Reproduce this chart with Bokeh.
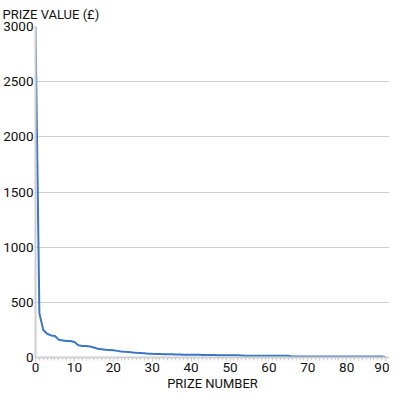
from bokeh.plotting import figure
from bokeh.models import Range1d, FixedTicker
from bokeh.embed import file_html
from bokeh.resources import INLINE

prize_number = list(range(0, 91))
prize_value = [
    3000, 400, 250, 215, 200, 195, 160, 155, 150, 150,
    140, 110, 105, 105, 100, 90, 80, 75, 70, 68,
    65, 60, 55, 52, 50, 45, 42, 40, 38, 35,
    33, 32, 31, 30, 30, 29, 28, 27, 26, 25,
    25, 24, 24, 23, 23, 22, 22, 21, 21, 20,
    20, 20, 20, 18, 15, 15, 15, 15, 15, 15,
    15, 15, 15, 15, 15, 15, 10, 10, 10, 10,
    10, 10, 10, 10, 10, 10, 10, 10, 10, 10,
    10, 10, 10, 10, 10, 10, 10, 10, 10, 8,
    5,
]
y_ticks = [0, 500, 1000, 1500, 2000, 2500, 3000]
x_ticks = [0, 10, 20, 30, 40, 50, 60, 70, 80, 90]

FONT = "Roboto"
TXT = "#111111"
GRID = "#cfcfcf"

p = figure(frame_width=354, frame_height=331, output_backend="svg", toolbar_location=None,
           x_range=Range1d(0, 91), y_range=Range1d(0, 3000),
           min_border_left=33, min_border_right=0, min_border_top=0, min_border_bottom=0)

p.title.text = "PRIZE VALUE (\u00a3)"
p.title.align = "left"
p.title.offset = -33
p.title.text_font = FONT
p.title.text_font_size = "13px"
p.title.text_font_style = "normal"
p.title.text_color = TXT
p.title.standoff = 9

p.line(prize_number, prize_value, line_color="#3a76c4", line_width=2)

p.outline_line_color = None
p.background_fill_color = "white"
p.border_fill_color = "white"

p.xgrid.grid_line_color = None
p.ygrid.grid_line_color = GRID
p.ygrid.grid_line_width = 1
p.ygrid.ticker = FixedTicker(ticks=y_ticks)

p.yaxis.ticker = FixedTicker(ticks=y_ticks)
p.yaxis.axis_line_color = GRID
p.yaxis.axis_line_width = 2
p.yaxis.major_tick_line_color = GRID
p.yaxis.major_tick_out = 1
p.yaxis.major_tick_in = 0
p.yaxis.minor_tick_line_color = None
p.yaxis.major_label_text_font = FONT
p.yaxis.major_label_text_font_size = "13.5px"
p.yaxis.major_label_text_color = TXT
p.yaxis.major_label_standoff = 1

p.xaxis.ticker = FixedTicker(ticks=x_ticks, minor_ticks=list(range(0, 92)))
p.xaxis.axis_line_color = GRID
p.xaxis.axis_line_width = 2
p.xaxis.major_tick_line_color = GRID
p.xaxis.major_tick_out = 4
p.xaxis.major_tick_in = 0
p.xaxis.minor_tick_line_color = GRID
p.xaxis.minor_tick_out = 3
p.xaxis.minor_tick_in = 0
p.xaxis.major_label_text_font = FONT
p.xaxis.major_label_text_font_size = "13.5px"
p.xaxis.major_label_text_color = TXT
p.xaxis.major_label_standoff = 1
p.xaxis.axis_label = "PRIZE NUMBER"
p.xaxis.axis_label_text_font = FONT
p.xaxis.axis_label_text_font_size = "13px"
p.xaxis.axis_label_text_font_style = "normal"
p.xaxis.axis_label_text_color = TXT
p.xaxis.axis_label_standoff = 1

open("out.html", "w").write(file_html(p, INLINE))
